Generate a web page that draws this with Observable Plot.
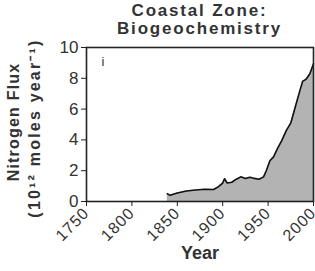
<!DOCTYPE html>
<html><head><meta charset="utf-8">
<script src="https://cdn.jsdelivr.net/npm/d3@7"></script>
<script src="https://cdn.jsdelivr.net/npm/@observablehq/plot@0.6"></script>
<style>
body{margin:0;background:#fff;font-family:"Liberation Sans",Arial,sans-serif;overflow:hidden}
#title{position:relative;height:40px;width:315px;box-sizing:border-box;padding-top:2px;padding-left:84px;text-align:center;font-weight:bold;font-size:17px;line-height:18px;letter-spacing:1.8px;color:#333}
</style></head><body>
<div id="title">Coastal Zone:<br>Biogeochemistry</div>
<div id="chart"></div>
<script>
const years = [1839,1842,1850,1860,1870,1880,1890,1895,1900,1902,1905,1910,1915,1920,1925,1930,1935,1940,1945,1948,1952,1956,1960,1965,1970,1975,1980,1985,1988,1992,1996,2000];
const flux  = [0.5,0.4,0.55,0.68,0.75,0.8,0.78,0.95,1.2,1.48,1.2,1.25,1.45,1.6,1.5,1.58,1.5,1.45,1.6,2.0,2.65,2.9,3.4,3.95,4.6,5.1,6.15,7.2,7.8,7.95,8.3,8.95];
const xTicks = [1750,1800,1850,1900,1950,2000];
const yTicks = [0,2,4,6,8,10];
const yLabels = ["Nitrogen Flux", "(10¹² moles year⁻¹)"];
const xLabel = "Year";
const panel = "i";

const data = years.map((y,i)=>({year:y, flux:flux[i]}));

const chart = Plot.plot({
  width: 315, height: 231,
  marginTop: 7, marginBottom: 70, marginLeft: 86, marginRight: 2,
  style: {fontFamily: '"Liberation Sans", Arial, sans-serif', color: "#333", background: "#fff", overflow: "visible"},
  x: {domain: [1750, 2000]},
  y: {domain: [0, 10]},
  marks: [
    Plot.areaY(data, {x: "year", y: "flux", fill: "#b3b3b3"}),
    Plot.lineY(data, {x: "year", y: "flux", stroke: "#111", strokeWidth: 1.6}),
    Plot.frame({stroke: "#222", strokeWidth: 1.6}),
    Plot.axisY({ticks: yTicks, tickSize: 5, tickPadding: 3, fontSize: 17, label: null, stroke: "#222"}),
    Plot.axisX({ticks: xTicks, tickSize: 5, tickPadding: 4, fontSize: 16, tickRotate: -45, tickFormat: d => String(d), label: null, stroke: "#222"}),
    Plot.text([xLabel], {frameAnchor: "bottom", dy: 57, fontSize: 18, fontWeight: "bold", fill: "#333"}),
    Plot.text([panel], {frameAnchor: "top-left", dx: 15, dy: 9, fontSize: 13, fill: "#333"})
  ]
});
document.getElementById("chart").appendChild(chart);
d3.select(chart).selectAll("[aria-label='x-axis tick label'] text").style("letter-spacing", "1px");

// rotated y-axis title (two lines)
const svg = d3.select(chart);
const cys = [82, 88];
const xs = [15, 36];
const spacing = ["1.2px", "2.2px"];
yLabels.forEach((t, i) => {
  svg.append("text")
    .attr("transform", `translate(${xs[i]},${cys[i]}) rotate(-90)`)
    .attr("text-anchor", "middle")
    .attr("dominant-baseline", "middle")
    .attr("font-size", 16)
    .attr("font-weight", "bold")
    .attr("fill", "#333")
    .style("letter-spacing", spacing[i])
    .text(t);
});
</script>
</body></html>
